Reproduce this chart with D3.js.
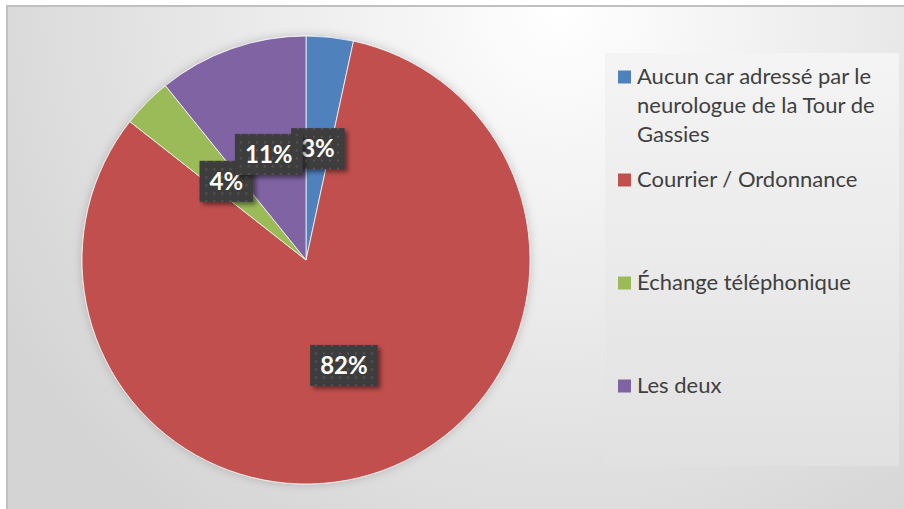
<!DOCTYPE html>
<html>
<head>
<meta charset="utf-8">
<script src="https://cdn.jsdelivr.net/npm/d3@7"></script>
<style>
  body { margin: 0; background: #fff; }
  svg { display: block; font-family: Lato, "Open Sans", sans-serif; }
</style>
</head>
<body>
<div id="chart"></div>
<script>
// categories and shares (percent)
var categories = [
    "Aucun car adressé par le neurologue de la Tour de Gassies",
    "Courrier / Ordonnance",
    "Échange téléphonique",
    "Les deux"
];
var shares = [3.4, 82.2, 3.6, 10.8];
var colors = ["#4f81bd", "#c0504d", "#9bbb59", "#8064a2"];

var width = 904, height = 509;
var cx = 306, cy = 260, radius = 224;

var data = categories.map(function (c, i) { return { name: c, value: shares[i] }; });

var svg = d3.select("#chart").append("svg")
    .attr("width", width)
    .attr("height", height);

var defs = svg.append("defs");

// chart background: radial gradient, white near the top
var bg = defs.append("radialGradient")
    .attr("id", "bg")
    .attr("gradientUnits", "userSpaceOnUse")
    .attr("cx", 560).attr("cy", 10).attr("r", 640);
bg.append("stop").attr("offset", "0").attr("stop-color", "#ffffff");
bg.append("stop").attr("offset", "1").attr("stop-color", "#d4d4d4");

var lg = defs.append("linearGradient")
    .attr("id", "legbg")
    .attr("x1", 0).attr("y1", 0).attr("x2", 0).attr("y2", 1);
lg.append("stop").attr("offset", "0").attr("stop-color", "#f4f4f4");
lg.append("stop").attr("offset", "1").attr("stop-color", "#e1e1e1");

// dotted pattern for the label boxes
var pat = defs.append("pattern")
    .attr("id", "dots")
    .attr("patternUnits", "userSpaceOnUse")
    .attr("width", 8).attr("height", 8);
pat.append("rect").attr("width", 8).attr("height", 8).attr("fill", "#3c3c3c");
pat.append("rect").attr("x", 3).attr("y", 3).attr("width", 2).attr("height", 2).attr("fill", "#575757");

var sh = defs.append("filter").attr("id", "boxshadow")
    .attr("x", "-30%").attr("y", "-30%").attr("width", "160%").attr("height", "160%");
sh.append("feDropShadow")
    .attr("dx", 3).attr("dy", 3).attr("stdDeviation", 2)
    .attr("flood-color", "#000").attr("flood-opacity", 0.45);

var pieShadow = defs.append("filter").attr("id", "pieshadow")
    .attr("x", "-20%").attr("y", "-20%").attr("width", "140%").attr("height", "140%");
pieShadow.append("feDropShadow")
    .attr("dx", 0).attr("dy", 0).attr("stdDeviation", 5)
    .attr("flood-color", "#000").attr("flood-opacity", 0.2);

svg.append("rect")
    .attr("x", 7).attr("y", 6)
    .attr("width", width).attr("height", height)
    .attr("fill", "url(#bg)")
    .attr("stroke", "#c0c0c0")
    .attr("stroke-width", 2);

// pie
var pie = d3.pie().sort(null).value(function (d) { return d.value; });
var arc = d3.arc().innerRadius(0).outerRadius(radius);
var arcs = pie(data);

var g = svg.append("g")
    .attr("transform", "translate(" + cx + "," + cy + ")");

g.append("g")
    .attr("filter", "url(#pieshadow)")
    .selectAll("path")
    .data(arcs)
    .enter()
    .append("path")
    .attr("d", arc)
    .attr("fill", function (d, i) { return colors[i]; })
    .attr("stroke", "#ffffff")
    .attr("stroke-width", 0.75);

// data labels
var fmt = function (d) { return Math.round(d.data.value) + "%"; };
var labels = g.selectAll(".lab")
    .data(arcs)
    .enter()
    .append("g")
    .attr("class", "lab")
    .attr("transform", function (d) { return "translate(" + arc.centroid(d) + ")"; });

labels.each(function (d) {
    var el = d3.select(this);
    var box = el.append("rect").attr("fill", "url(#dots)").attr("filter", "url(#boxshadow)");
    var t = el.append("text")
        .attr("text-anchor", "middle")
        .attr("dy", "0.36em")
        .attr("fill", "#ffffff")
        .attr("font-weight", "bold")
        .attr("font-size", 24)
        .text(fmt(d));
    var w = t.node().getComputedTextLength() + 20;
    box.attr("x", -w / 2).attr("y", -20.5).attr("width", w).attr("height", 41);
});

// legend
var legend = svg.append("g");
legend.append("rect")
    .attr("x", 605).attr("y", 53)
    .attr("width", 294).attr("height", 413)
    .attr("fill", "url(#legbg)");

var itemY = d3.scalePoint().domain(categories).range([77, 386]);

function wrap(textSel, words, maxW, lineH) {
    var line = [];
    var tspan = textSel.append("tspan").attr("x", 0).attr("dy", 0);
    words.forEach(function (w) {
        line.push(w);
        tspan.text(line.join(" "));
        if (tspan.node().getComputedTextLength() > maxW && line.length > 1) {
            line.pop();
            tspan.text(line.join(" "));
            line = [w];
            tspan = textSel.append("tspan").attr("x", 0).attr("dy", lineH).text(w);
        }
    });
}

var items = legend.selectAll(".item")
    .data(categories)
    .enter()
    .append("g")
    .attr("class", "item")
    .attr("transform", function (d) { return "translate(618," + itemY(d) + ")"; });

items.append("rect")
    .attr("x", 0).attr("y", -6.5)
    .attr("width", 13).attr("height", 13)
    .attr("fill", function (d, i) { return colors[i]; });

items.append("text")
    .attr("transform", "translate(19,7)")
    .attr("fill", "#404040")
    .attr("font-size", 22)
    .each(function (d) { wrap(d3.select(this), d.split(" "), 262, 29); });
</script>
</body>
</html>
